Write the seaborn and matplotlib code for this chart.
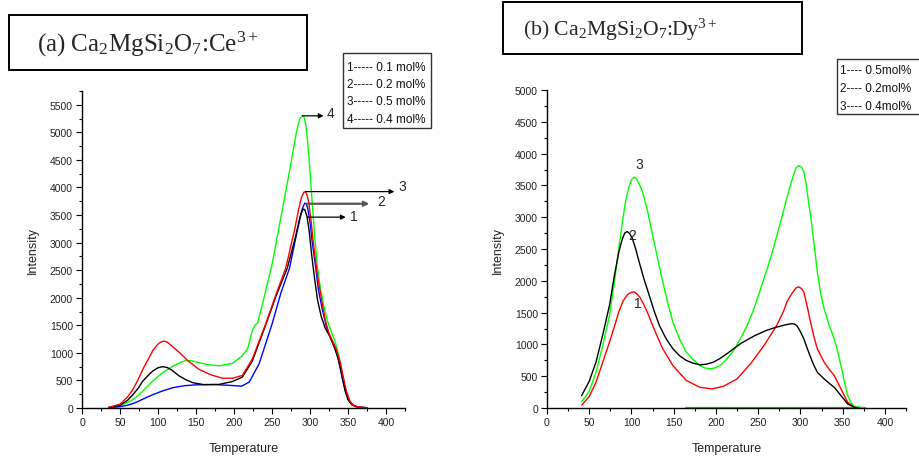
import numpy as np
import pandas as pd
import matplotlib
matplotlib.use("Agg")
import matplotlib.pyplot as plt
from matplotlib import font_manager
from matplotlib.patches import Rectangle
from matplotlib.ticker import MultipleLocator
import seaborn as sns

# ---------------- data: panel (a) Ca2MgSi2O7:Ce3+ ----------------
a1_T = [35, 50, 60, 67, 74, 80, 87, 93, 100, 106, 112, 118, 128, 137, 146, 160, 180, 198, 211, 224, 241, 255, 270, 280, 285, 288, 291, 293, 296, 299, 302, 306, 310, 315, 320, 326, 332, 337, 342, 346, 350, 355, 362, 375]
a1_I = [10, 50, 140, 243, 360, 488, 590, 670, 730, 750, 735, 690, 580, 510, 458, 425, 427, 480, 560, 850, 1480, 2020, 2534, 3050, 3350, 3520, 3610, 3600, 3480, 3200, 2800, 2350, 1950, 1650, 1450, 1300, 1100, 900, 600, 320, 150, 60, 15, 5]

a2_T = [35, 50, 60, 67, 74, 80, 93, 106, 120, 135, 150, 175, 195, 210, 220, 233, 250, 262, 273, 283, 287, 290, 293, 295, 297, 300, 303, 307, 311, 316, 322, 328, 333, 338, 343, 347, 352, 358, 365, 375]
a2_I = [5, 25, 50, 80, 120, 160, 240, 310, 370, 405, 420, 425, 410, 396, 470, 800, 1520, 2100, 2534, 3200, 3450, 3620, 3715, 3710, 3620, 3380, 3000, 2600, 2150, 1800, 1450, 1250, 1100, 850, 500, 300, 120, 40, 15, 5]

a3_T = [35, 50, 60, 67, 74, 80, 87, 93, 100, 104, 108, 112, 118, 128, 140, 154, 170, 185, 198, 211, 224, 241, 255, 268, 280, 285, 289, 292, 294, 296, 298, 301, 304, 307, 311, 315, 320, 325, 330, 335, 340, 344, 348, 352, 356, 362, 375]
a3_I = [10, 70, 200, 335, 520, 700, 880, 1037, 1160, 1200, 1212, 1195, 1130, 1007, 850, 700, 600, 540, 540, 590, 885, 1500, 2050, 2534, 3250, 3600, 3830, 3915, 3920, 3870, 3750, 3450, 3050, 2700, 2300, 1983, 1600, 1350, 1200, 1050, 820, 550, 300, 140, 60, 20, 5]

a4_T = [35, 50, 60, 67, 74, 80, 93, 106, 120, 130, 137, 145, 150, 165, 180, 198, 211, 218, 224, 228, 231, 237, 250, 263, 274, 280, 284, 287, 290, 292, 294, 296, 298, 300, 303, 306, 310, 314, 318, 323, 328, 333, 338, 342, 346, 350, 355, 362, 375]
a4_I = [5, 40, 100, 152, 230, 304, 488, 641, 762, 830, 860, 855, 835, 790, 765, 808, 950, 1080, 1400, 1510, 1540, 1861, 2600, 3550, 4367, 4850, 5120, 5260, 5300, 5280, 5180, 4950, 4650, 4300, 3700, 3150, 2530, 2150, 1860, 1580, 1380, 1200, 950, 650, 350, 160, 60, 15, 5]

a_names = ["1", "2", "3", "4"]
a_legend = ["1----- 0.1 mol%", "2----- 0.2 mol%", "3----- 0.5 mol%", "4----- 0.4 mol%"]
a_colors = ["#000000", "#0000ff", "#ff0000", "#00ff00"]

# ---------------- data: panel (b) Ca2MgSi2O7:Dy3+ ----------------
b1_T = [41, 50, 58, 66, 74, 80, 85, 90, 94, 97, 100, 103, 106, 110, 113, 119, 125, 131, 137, 149, 165, 181, 195, 209, 225, 241, 257, 272, 280, 284, 288, 292, 295, 298, 301, 304, 308, 312, 316, 320, 328, 334, 340, 348, 356, 364, 370]
b1_I = [47, 180, 405, 720, 1037, 1290, 1511, 1680, 1760, 1800, 1818, 1826, 1800, 1740, 1668, 1500, 1300, 1110, 932, 668, 432, 326, 300, 342, 458, 695, 984, 1300, 1520, 1668, 1760, 1840, 1890, 1905, 1880, 1826, 1600, 1353, 1120, 932, 721, 610, 511, 300, 89, 10, 0]

b2_T = [41, 50, 58, 66, 74, 80, 85, 89, 92, 95, 98, 101, 105, 109, 115, 121, 127, 133, 141, 149, 157, 165, 173, 181, 189, 197, 205, 213, 229, 245, 260, 270, 280, 285, 290, 293, 296, 300, 304, 308, 312, 316, 320, 328, 334, 340, 348, 356, 364, 368]
b2_I = [195, 420, 721, 1150, 1616, 2100, 2450, 2650, 2750, 2775, 2740, 2668, 2500, 2300, 2020, 1774, 1520, 1300, 1090, 932, 820, 747, 705, 679, 690, 721, 780, 853, 1011, 1132, 1221, 1265, 1300, 1315, 1326, 1320, 1290, 1200, 1089, 940, 800, 670, 563, 458, 390, 326, 195, 63, 10, 0]

b3_T = [41, 50, 58, 66, 74, 80, 85, 89, 93, 97, 100, 103, 106, 110, 113, 119, 125, 131, 137, 143, 149, 157, 165, 173, 181, 187, 193, 199, 205, 213, 221, 229, 237, 245, 253, 261, 268, 276, 284, 288, 292, 295, 298, 301, 304, 307, 310, 312, 316, 320, 324, 328, 334, 340, 344, 348, 352, 356, 360, 364, 376]
b3_I = [100, 260, 563, 980, 1458, 2000, 2510, 2900, 3247, 3480, 3590, 3630, 3600, 3500, 3405, 3100, 2721, 2350, 1984, 1650, 1353, 1080, 879, 760, 668, 630, 616, 630, 668, 770, 905, 1090, 1300, 1560, 1879, 2200, 2510, 2900, 3300, 3500, 3668, 3780, 3810, 3790, 3721, 3500, 3200, 3037, 2600, 2142, 1800, 1563, 1300, 1089, 900, 668, 420, 195, 80, 26, 0]

b_base_T = [165, 307]
b_base_I = [0, 0]
b_base2_T = [307, 376]
b_base2_I = [0, 0]

b_names = ["1", "2", "3"]
b_legend = ["1---- 0.5mol%", "2---- 0.2mol%", "3---- 0.4mol%"]
b_colors = ["#ff0000", "#000000", "#00ff00"]

# ---------------- style ----------------
sns.set_theme(style="white")
names = {f.name for f in font_manager.fontManager.ttflist}
tick_family = "Liberation Sans Narrow" if "Liberation Sans Narrow" in names else "Liberation Sans"
plt.rcParams["font.family"] = ["Liberation Sans", "DejaVu Sans"]
plt.rcParams["mathtext.fontset"] = "custom"
plt.rcParams["mathtext.rm"] = "Liberation Serif"
plt.rcParams["mathtext.it"] = "Liberation Serif:italic"

W, H = 919, 460
fig = plt.figure(figsize=(W / 100, H / 100), dpi=100)


def fx(px):
    return px / W


def fy(py):
    return 1 - py / H


ax1 = fig.add_axes([fx(82), fy(409), (405 - 82) / W, (409 - 92) / H])
ax2 = fig.add_axes([fx(547), fy(409), (906 - 547) / W, (409 - 91) / H])

dfa = pd.concat([
    pd.DataFrame({"T": t, "I": i, "s": n})
    for t, i, n in zip([a1_T, a2_T, a3_T, a4_T], [a1_I, a2_I, a3_I, a4_I], a_names)
])
order_a = ["4", "2", "1", "3"]
for n in order_a:
    k = a_names.index(n)
    sns.lineplot(data=dfa[dfa.s == n], x="T", y="I", color=a_colors[k], lw=1.0,
                 sort=False, estimator=None, ax=ax1, legend=False)

dfb = pd.concat([
    pd.DataFrame({"T": t, "I": i, "s": n})
    for t, i, n in zip([b1_T, b2_T, b3_T], [b1_I, b2_I, b3_I], b_names)
])
sns.lineplot(x=b_base_T, y=b_base_I, color="#00dd00", lw=1.6, ax=ax2, legend=False)
sns.lineplot(x=b_base2_T, y=b_base2_I, color="#5a9a40", lw=1.6, ax=ax2, legend=False)
for n in ["3", "1", "2"]:
    k = b_names.index(n)
    sns.lineplot(data=dfb[dfb.s == n], x="T", y="I", color=b_colors[k], lw=1.0,
                 sort=False, estimator=None, ax=ax2, legend=False)

for ax, ytop in [(ax1, 5750), (ax2, 5000)]:
    ax.set_xlim(0, 425)
    ax.set_ylim(0, ytop)
    ax.xaxis.set_major_locator(MultipleLocator(50))
    ax.xaxis.set_minor_locator(MultipleLocator(25))
    ax.yaxis.set_major_locator(MultipleLocator(500))
    ax.yaxis.set_minor_locator(MultipleLocator(250))
    for s in ["top", "right"]:
        ax.spines[s].set_visible(False)
    for s in ["left", "bottom"]:
        ax.spines[s].set_color("black")
        ax.spines[s].set_linewidth(1.0)
    ax.tick_params(which="major", direction="out", length=4.5, width=0.8, color="black",
                   labelsize=7.5, pad=2, left=True, bottom=True)
    ax.tick_params(which="minor", direction="out", length=2.5, width=0.8, color="black",
                   left=True, bottom=True)
    ax.set_xlabel("Temperature", fontsize=9, color="#222222", labelpad=11)
    ax.set_ylabel("Intensity", fontsize=9, color="#222222", labelpad=8)
    ax.set_facecolor("none")

ax1.set_yticks(range(0, 5501, 500))
ax1.yaxis.set_minor_locator(MultipleLocator(250))
for ax in (ax1, ax2):
    for lab in ax.get_xticklabels() + ax.get_yticklabels():
        lab.set_family(tick_family)
        lab.set_color("#222222")

# ---------------- annotations panel (a) ----------------
arrow_kw = dict(arrowstyle="-|>", color="black", lw=0.9, mutation_scale=7, shrinkA=0, shrinkB=0)
ax1.annotate("", xy=(318, 5300), xytext=(290, 5300), arrowprops=arrow_kw, annotation_clip=False)
ax1.text(322, 5350, "4", fontsize=10, va="center", ha="left", clip_on=False)
ax1.annotate("", xy=(411, 3925), xytext=(294, 3925), arrowprops=arrow_kw, annotation_clip=False)
ax1.text(416, 4030, "3", fontsize=10, va="center", ha="left", clip_on=False)
ax1.annotate("", xy=(378, 3705), xytext=(296, 3705),
             arrowprops=dict(arrowstyle="-|>", color="#555555", lw=1.6, mutation_scale=7,
                             shrinkA=0, shrinkB=0), annotation_clip=False)
ax1.text(389, 3760, "2", fontsize=10, va="center", ha="left", clip_on=False)
ax1.annotate("", xy=(347, 3462), xytext=(297, 3462), arrowprops=arrow_kw, annotation_clip=False)
ax1.text(353, 3480, "1", fontsize=10, va="center", ha="left", clip_on=False)

# ---------------- annotations panel (b) ----------------
ax2.text(109, 3840, "3", fontsize=10, ha="center", va="center")
ax2.text(101, 2720, "2", fontsize=10, ha="center", va="center")
ax2.text(107, 1650, "1", fontsize=10, ha="center", va="center")

# ---------------- title boxes ----------------
fig.add_artist(Rectangle((fx(9), fy(71)), 298 / W, 55 / H, transform=fig.transFigure,
                         fill=False, lw=1.4, ec="black"))
fig.text(fx(37), fy(44), r"(a) Ca$_\mathregular{2}$MgSi$_\mathregular{2}$O$_\mathregular{7}$:Ce$^\mathregular{3+}$",
         fontsize=18, family="Liberation Serif", ha="left", va="center")
fig.add_artist(Rectangle((fx(503), fy(55)), 299 / W, 52 / H, transform=fig.transFigure,
                         fill=False, lw=1.4, ec="black"))
fig.text(fx(523), fy(30), r"(b) Ca$_\mathregular{2}$MgSi$_\mathregular{2}$O$_\mathregular{7}$:Dy$^\mathregular{3+}$",
         fontsize=15.7, family="Liberation Serif", ha="left", va="center")

# ---------------- legend boxes ----------------
fig.add_artist(Rectangle((fx(343), fy(129)), 88 / W, 75 / H, transform=fig.transFigure,
                         fill=False, lw=1.0, ec="#333333"))
for txt, py in zip(a_legend, [68, 85, 102, 120]):
    fig.text(fx(347), fy(py), txt, fontsize=8.5, ha="left", va="center", color="#111111")

fig.add_artist(Rectangle((fx(837), fy(115)), 100 / W, 55 / H, transform=fig.transFigure,
                         fill=False, lw=1.0, ec="#333333"))
for txt, py in zip(b_legend, [71, 89, 107]):
    fig.text(fx(840), fy(py), txt, fontsize=8.5, ha="left", va="center", color="#111111")

fig.savefig("out.png", dpi=100, facecolor="white")
